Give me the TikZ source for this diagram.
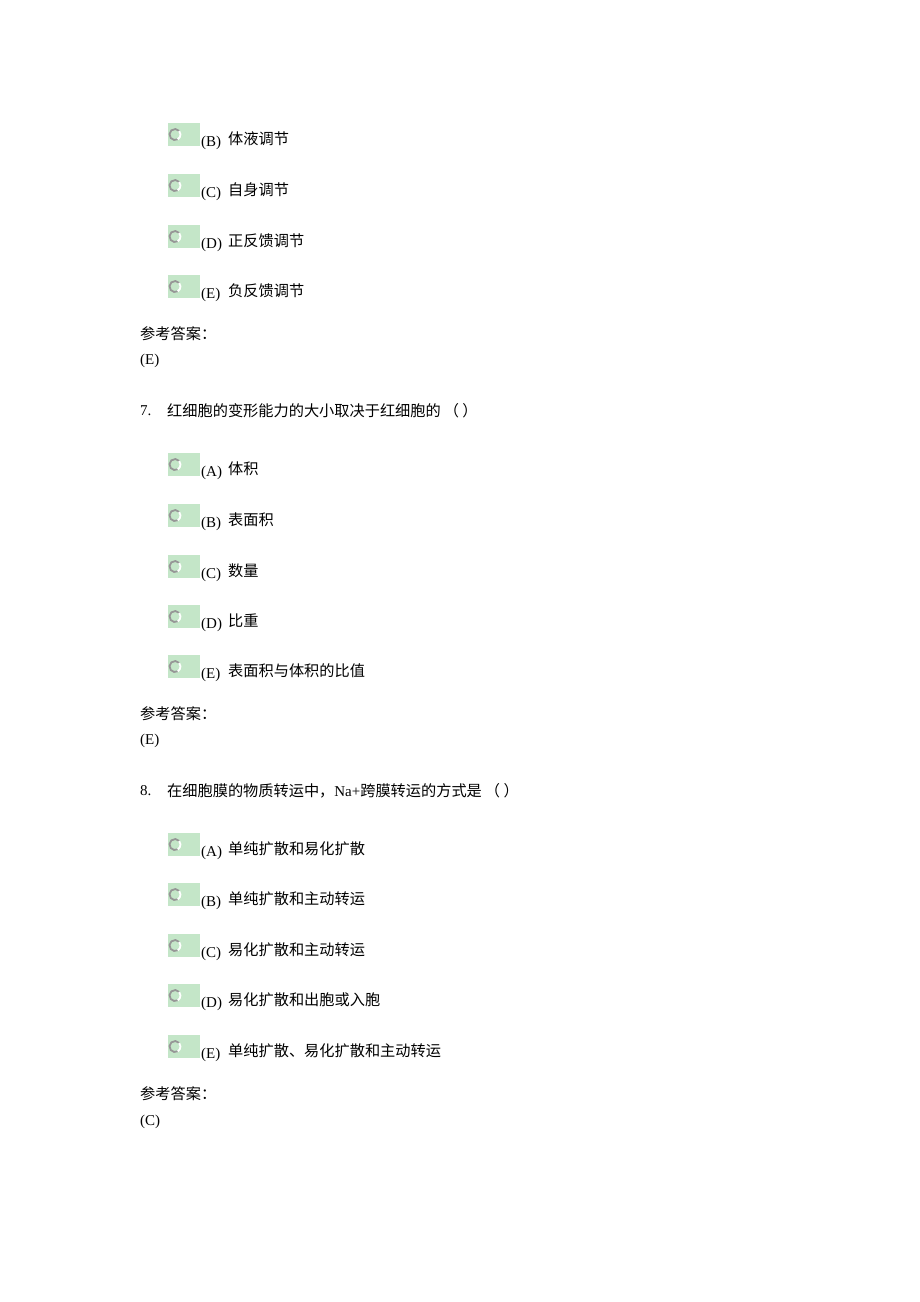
\documentclass[tikz,border=0pt]{standalone}
\usepackage{fontspec}
\setmainfont{Liberation Serif}
\newfontfamily\cjk{Noto Sans CJK SC}
\definecolor{icongreen}{RGB}{196,230,200}
\definecolor{ringgray}{RGB}{150,150,150}
\begin{document}
\begin{tikzpicture}[x=1pt,y=-1pt,
  icon/.style={fill=icongreen,draw=none,minimum width=32pt,minimum height=23pt,inner sep=0pt},
  lab/.style={anchor=base west,inner sep=0pt,font=\fontsize{15}{18}\selectfont},
  cn/.style={anchor=base west,inner sep=0pt,font=\cjk\fontsize{15.2}{18}\selectfont},
  txt/.style={anchor=base west,inner sep=0pt,font=\fontsize{15}{18}\selectfont}]
\useasboundingbox[fill=white] (0,0) rectangle (920,1302);
\newcommand{\optrow}[4]{%
  \node[icon] (#1i) at (184,#2-3.5) {};
  \draw[ringgray,line width=1.8pt] ([xshift=-9pt]#1i.center) ++(40:5.5pt) arc[start angle=40,end angle=300,radius=5.5pt];
  \draw[white,line width=1.8pt] ([xshift=-9pt]#1i.center) ++(300:5.5pt) arc[start angle=300,end angle=400,radius=5.5pt];
  \node[lab] (#1l) at (201,#2+8.5) {(#3)};
  \node[cn] (#1t) at (228,#2+6) {#4};
}
% block 1
\optrow{qaB}{138}{B}{体液调节}
\optrow{qaC}{189}{C}{自身调节}
\optrow{qaD}{240}{D}{正反馈调节}
\optrow{qaE}{290}{E}{负反馈调节}
\node[cn] (ansA) at (140,339) {参考答案：};
\node[lab] (ansAv) at (140,364) {(E)};
% block 2
\node[txt] (q7n) at (140,415) {7.};
\node[cn] (q7) at (167,416) {红细胞的变形能力的大小取决于红细胞的\hspace{3pt}（ ）};
\optrow{qbA}{468}{A}{体积}
\optrow{qbB}{519}{B}{表面积}
\optrow{qbC}{570}{C}{数量}
\optrow{qbD}{620}{D}{比重}
\optrow{qbE}{670}{E}{表面积与体积的比值}
\node[cn] (ansB) at (140,719) {参考答案：};
\node[lab] (ansBv) at (140,744) {(E)};
% block 3
\node[txt] (q8n) at (140,795) {8.};
\node[cn] (q8) at (167,796) {在细胞膜的物质转运中，{\rmfamily\fontsize{15}{18}\selectfont Na+}跨膜转运的方式是\hspace{3pt}（ ）};
\optrow{qcA}{848}{A}{单纯扩散和易化扩散}
\optrow{qcB}{898}{B}{单纯扩散和主动转运}
\optrow{qcC}{949}{C}{易化扩散和主动转运}
\optrow{qcD}{999}{D}{易化扩散和出胞或入胞}
\optrow{qcE}{1050}{E}{单纯扩散、易化扩散和主动转运}
\node[cn] (ansC) at (140,1099) {参考答案：};
\node[lab] (ansCv) at (140,1125) {(C)};
\end{tikzpicture}
\end{document}
